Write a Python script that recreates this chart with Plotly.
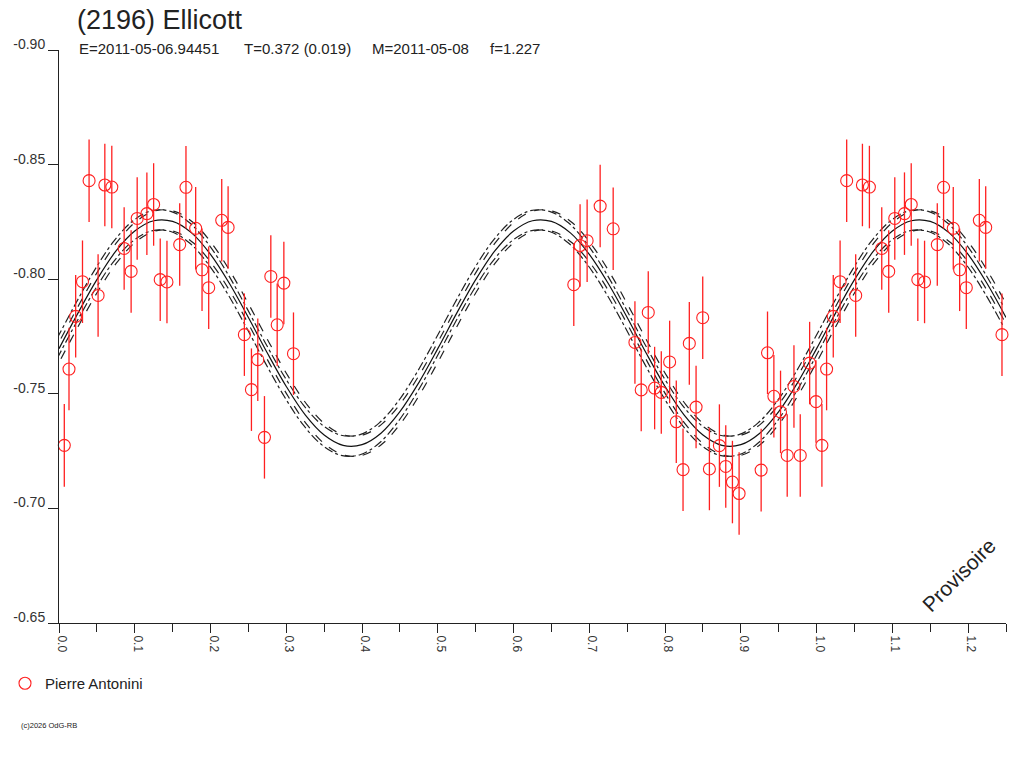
import plotly.graph_objects as go

# ---- data ----
phase = [0.007, 0.0132, 0.022, 0.031, 0.0397, 0.0516, 0.0605, 0.0697, 0.086, 0.0952,
         0.1032, 0.116, 0.1249, 0.1336, 0.1425, 0.1593, 0.1676, 0.1804, 0.1888, 0.1976,
         0.2148, 0.2232, 0.2447, 0.254, 0.2624, 0.2712, 0.2796, 0.288, 0.2968, 0.3095,
         0.6795, 0.6878, 0.6971, 0.7143, 0.7315, 0.7602, 0.7685, 0.7778, 0.7862, 0.795,
         0.806, 0.8148, 0.8237, 0.832, 0.8409, 0.8497, 0.8585, 0.8717, 0.8801, 0.8889,
         0.8977, 0.9268, 0.9352, 0.9436, 0.9524, 0.9612, 0.9701, 0.9784, 0.9908, 0.9992]
mag = [-0.7275, -0.7608, -0.7838, -0.7989, -0.8430, -0.7929, -0.8411, -0.8402, -0.8134, -0.8034,
       -0.8265, -0.8286, -0.8326, -0.7998, -0.7988, -0.8151, -0.8401, -0.8222, -0.8041, -0.7963,
       -0.8257, -0.8226, -0.7758, -0.7518, -0.7649, -0.7310, -0.8012, -0.7801, -0.7983, -0.7675,
       -0.7976, -0.8147, -0.8168, -0.8319, -0.8220, -0.7724, -0.7517, -0.7855, -0.7525, -0.7506,
       -0.7639, -0.7378, -0.7169, -0.7720, -0.7442, -0.7832, -0.7172, -0.7274, -0.7183, -0.7115,
       -0.7065, -0.7167, -0.7679, -0.7489, -0.7421, -0.7231, -0.7532, -0.7231, -0.7634, -0.7466]
mag_err = [0.018, 0.018, 0.018, 0.018, 0.018, 0.018, 0.018, 0.018, 0.018, 0.018,
           0.018, 0.018, 0.018, 0.018, 0.018, 0.018, 0.018, 0.018, 0.018, 0.018,
           0.018, 0.018, 0.018, 0.018, 0.018, 0.018, 0.018, 0.018, 0.018, 0.018,
           0.018, 0.018, 0.018, 0.018, 0.018, 0.018, 0.018, 0.018, 0.018, 0.018,
           0.018, 0.018, 0.018, 0.018, 0.018, 0.018, 0.018, 0.018, 0.018, 0.018,
           0.018, 0.018, 0.018, 0.018, 0.018, 0.018, 0.018, 0.018, 0.018, 0.018]

# fit curve sampled every 0.025 in phase (0 .. 1.25)
fit_phase = [i * 0.025 for i in range(51)]
fit_mag = [-0.7697, -0.7852, -0.7998, -0.8122, -0.8210, -0.8255, -0.8252, -0.8202, -0.8108, -0.7981,
           -0.7833, -0.7678, -0.7532, -0.7408, -0.7320, -0.7275, -0.7278, -0.7328, -0.7422, -0.7549,
           -0.7697, -0.7852, -0.7998, -0.8122, -0.8210, -0.8255, -0.8252, -0.8202, -0.8108, -0.7981,
           -0.7833, -0.7678, -0.7532, -0.7408, -0.7320, -0.7275, -0.7278, -0.7328, -0.7422, -0.7549,
           -0.7697, -0.7852, -0.7998, -0.8122, -0.8210, -0.8255, -0.8252, -0.8202, -0.8108, -0.7981,
           -0.7833]
band_mag_offset = 0.0044
band_phase_offset = 0.0026

title = "(2196) Ellicott"
subtitle_fields = ["E=2011-05-06.94451", "T=0.372 (0.019)", "M=2011-05-08", "f=1.227"]
subtitle_field_px = [78, 243, 371, 489]
observer = "Pierre Antonini"
x_ticks = [0.0, 0.1, 0.2, 0.3, 0.4, 0.5, 0.6, 0.7, 0.8, 0.9, 1.0, 1.1, 1.2]
x_ticklabels = ["0.0", "0.1", "0.2", "0.3", "0.4", "0.5", "0.6", "0.7", "0.8", "0.9", "1.0", "1.1", "1.2"]
y_ticks = [-0.90, -0.85, -0.80, -0.75, -0.70, -0.65]
y_ticklabels = ["-0.90", "-0.85", "-0.80", "-0.75", "-0.70", "-0.65"]

# phases below 0.25 are repeated one cycle later
px = list(phase) + [p + 1 for p in phase if p + 1 <= 1.25]
py = list(mag) + [m for p, m in zip(phase, mag) if p + 1 <= 1.25]
pe = list(mag_err) + [e for p, e in zip(phase, mag_err) if p + 1 <= 1.25]

FONT = "Liberation Sans, Arial, sans-serif"
L, R, T, B = 59, 18, 50, 145
PW, PH = 1024 - L - R, 768 - T - B

fig = go.Figure()

for sgn in (-1, 1):
    fig.add_trace(go.Scatter(
        x=[p + band_phase_offset for p in fit_phase],
        y=[m + sgn * band_mag_offset for m in fit_mag],
        mode="lines", line=dict(color="#222222", width=1.2, dash="dash", shape="spline"),
        showlegend=False, hoverinfo="skip"))
    fig.add_trace(go.Scatter(
        x=[p - band_phase_offset for p in fit_phase],
        y=[m + sgn * band_mag_offset for m in fit_mag],
        mode="lines", line=dict(color="#222222", width=1.2, dash="dashdot", shape="spline"),
        showlegend=False, hoverinfo="skip"))

fig.add_trace(go.Scatter(
    x=fit_phase, y=fit_mag, mode="lines",
    line=dict(color="#111111", width=1.2, shape="spline"),
    showlegend=False, hoverinfo="skip"))

fig.add_trace(go.Scatter(
    x=px, y=py, mode="markers", name=observer,
    marker=dict(symbol="circle-open", size=12, color="#ff2020", line=dict(width=1.1)),
    error_y=dict(type="data", array=pe, color="#ff2020", thickness=1.3, width=0),
    cliponaxis=False))

fig.update_layout(
    width=1024, height=768,
    margin=dict(l=L, r=R, t=T, b=B, autoexpand=False),
    paper_bgcolor="white", plot_bgcolor="white",
    font=dict(family=FONT, size=13, color="#222222"),
    showlegend=True,
    legend=dict(x=-54 / PW, y=-44 / PH, xanchor="left", yanchor="top",
                font=dict(family=FONT, size=15, color="#222222"),
                bgcolor="rgba(0,0,0,0)"),
    xaxis=dict(range=[0, 1.25], showgrid=False, zeroline=False, automargin=False,
               showline=True, linecolor="#222222", linewidth=1,
               ticks="outside", ticklen=9, tickcolor="#222222",
               tickvals=x_ticks, ticktext=x_ticklabels, tickangle=90,
               tickfont=dict(family=FONT, size=12, color="#333333"),
               minor=dict(dtick=0.05, ticks="outside", ticklen=8, tickcolor="#222222"),
               ticklabelshift=3),
    yaxis=dict(range=[-0.65, -0.90], showgrid=False, zeroline=False, automargin=False,
               showline=True, linecolor="#222222", linewidth=1,
               ticks="outside", ticklen=10, tickcolor="#222222",
               tickvals=y_ticks, ticktext=y_ticklabels,
               tickfont=dict(family=FONT, size=14, color="#333333"),
               ticklabelstandoff=0, ticklabelshift=6),
)

fig.add_annotation(text=title, xref="paper", yref="paper", x=(75 - L) / PW, y=1 + 30 / PH,
                   xanchor="left", yanchor="middle", showarrow=False,
                   font=dict(family=FONT, size=27, color="#222222"))
for txt, xp in zip(subtitle_fields, subtitle_field_px):
    fig.add_annotation(text=txt, xref="paper", yref="paper", x=(xp - 1 - L) / PW, y=1 + 2 / PH,
                       xanchor="left", yanchor="middle", showarrow=False,
                       font=dict(family=FONT, size=15, color="#222222"))
fig.add_annotation(text="Provisoire", xref="paper", yref="paper", x=(958 - L) / PW, y=(626 - 578) / PH,
                   xanchor="center", yanchor="middle", showarrow=False, textangle=-45,
                   font=dict(family=FONT, size=21, color="#222222"))
fig.add_annotation(text="(c)2026 OdG-RB", xref="paper", yref="paper", x=(19 - L) / PW, y=-(725 - 623) / PH,
                   xanchor="left", yanchor="middle", showarrow=False,
                   font=dict(family=FONT, size=7.5, color="#222222"))

fig.write_html("out.html", config={"displayModeBar": False},
               post_script="document.body.style.margin='0px';")
